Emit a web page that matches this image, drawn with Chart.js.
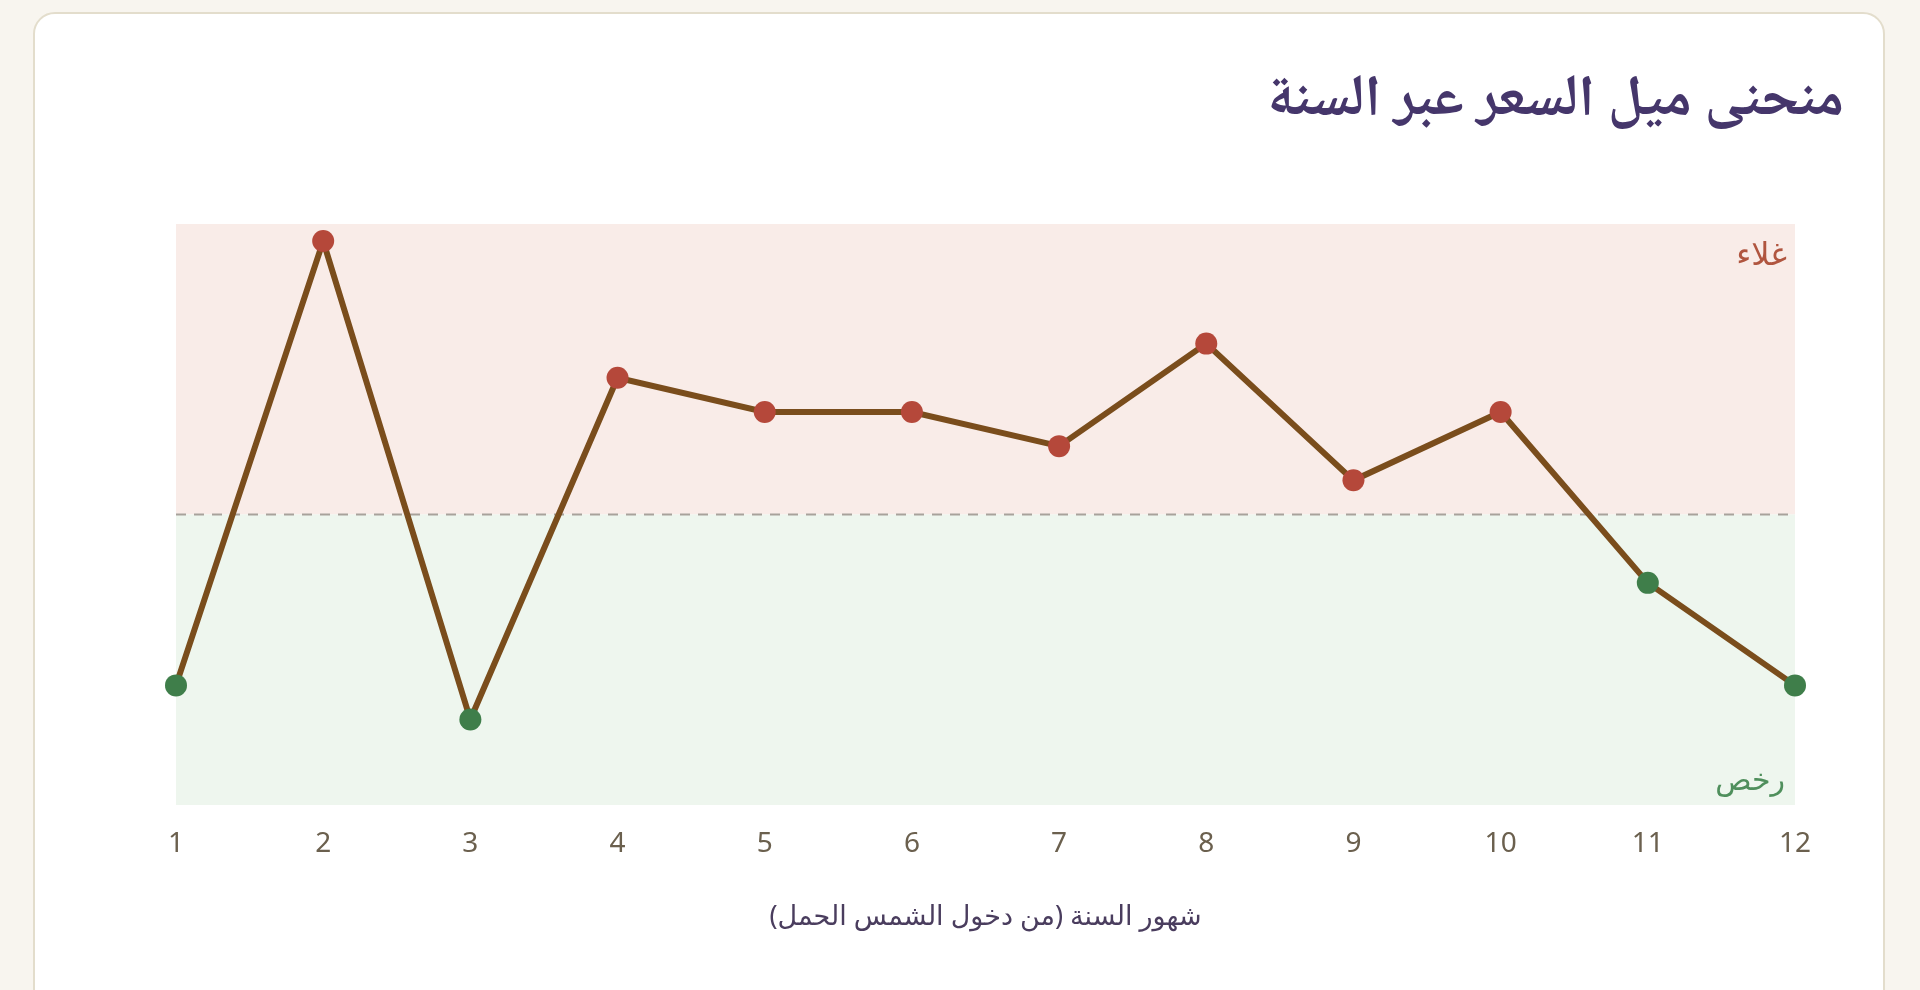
<!DOCTYPE html>
<html lang="ar" dir="rtl">
<head>
<meta charset="utf-8">
<title>منحنى ميل السعر عبر السنة</title>
<script src="https://cdn.jsdelivr.net/npm/chart.js@4.4.1/dist/chart.umd.min.js"></script>
<style>
  html, body { margin: 0; padding: 0; }
  body { width: 1920px; height: 990px; background: #f8f5ef; overflow: hidden; position: relative; }
  .card {
    position: absolute; left: 33px; top: 12px; width: 1848px; height: 1020px;
    background: #fff; border: 2px solid #e3ddcc; border-radius: 22px;
  }
  h2 {
    position: absolute; right: 76px; top: 68px; margin: 0;
    font-family: "Noto Naskh Arabic", "Noto Sans", "DejaVu Sans", serif;
    font-size: 58px; font-weight: 700; color: #45366b; line-height: 1.2;
  }
  .chart-box { position: absolute; left: 100px; top: 190px; width: 1760px; height: 780px; }
</style>
</head>
<body>
<div class="card"></div>
<h2>منحنى ميل السعر عبر السنة</h2>
<div class="chart-box"><canvas id="slopeChart"></canvas></div>
<script>
// months counted from the sun entering Aries
const months = ['1', '2', '3', '4', '5', '6', '7', '8', '9', '10', '11', '12'];
// price tendency: positive = dearness (غلاء), negative = cheapness (رخص)
const priceTrend = [-5, 8, -6, 4, 3, 3, 2, 5, 1, 3, -2, -5];
const yRange = [-8.5, 8.5];
const zoneLabels = ['غلاء', 'رخص'];

const arabicFont = '"Noto Sans", "DejaVu Sans", sans-serif';

// shaded zones, zero line and zone names
const zonesPlugin = {
    id: 'zones',
    beforeDatasetsDraw(chart) {
        const { ctx, chartArea: a, scales: { y } } = chart;
        const zero = y.getPixelForValue(0);
        ctx.save();
        ctx.fillStyle = '#f9ece8';
        ctx.fillRect(a.left, a.top, a.right - a.left, zero - a.top);
        ctx.fillStyle = '#eef6ee';
        ctx.fillRect(a.left, zero, a.right - a.left, a.bottom - zero);

        ctx.strokeStyle = '#a8a29b';
        ctx.lineWidth = 2;
        ctx.setLineDash([10, 8]);
        ctx.beginPath();
        ctx.moveTo(a.left, zero);
        ctx.lineTo(a.right, zero);
        ctx.stroke();
        ctx.setLineDash([]);

        ctx.textAlign = 'right';
        ctx.direction = 'rtl';
        ctx.textBaseline = 'middle';
        ctx.font = '32px ' + arabicFont;
        ctx.fillStyle = '#b0553f';
        ctx.fillText(zoneLabels[0], a.right - 8, a.top + 32);
        ctx.font = '30px ' + arabicFont;
        ctx.fillStyle = '#4f8f5c';
        ctx.fillText(zoneLabels[1], a.right - 10, a.bottom - 24);
        ctx.restore();
    }
};

const pointColors = priceTrend.map(v => v > 0 ? '#b5483a' : '#3f7e4a');

new Chart(document.getElementById('slopeChart'), {
    type: 'line',
    data: {
        labels: months,
        datasets: [{
            data: priceTrend,
            borderColor: '#7a4d1c',
            borderWidth: 6,
            tension: 0,
            pointRadius: 11,
            pointHoverRadius: 11,
            pointBorderWidth: 0,
            pointBackgroundColor: pointColors,
            pointBorderColor: pointColors
        }]
    },
    options: {
        responsive: true,
        maintainAspectRatio: false,
        animation: false,
        layout: { padding: { left: 76, right: 65, top: 34, bottom: 32 } },
        scales: {
            x: {
                offset: false,
                grid: { display: false },
                border: { display: false },
                ticks: {
                    color: '#6b604e',
                    padding: 14,
                    font: { family: '"Noto Sans", sans-serif', size: 28 }
                },
                title: {
                    display: true,
                    text: 'شهور السنة (من دخول الشمس الحمل)',
                    color: '#4a3d5e',
                    padding: { top: 27, bottom: 4 },
                    font: { family: arabicFont, size: 27 }
                }
            },
            y: {
                display: false,
                min: yRange[0],
                max: yRange[1]
            }
        },
        plugins: {
            legend: { display: false },
            tooltip: { enabled: false }
        }
    },
    plugins: [zonesPlugin]
});
</script>
</body>
</html>
